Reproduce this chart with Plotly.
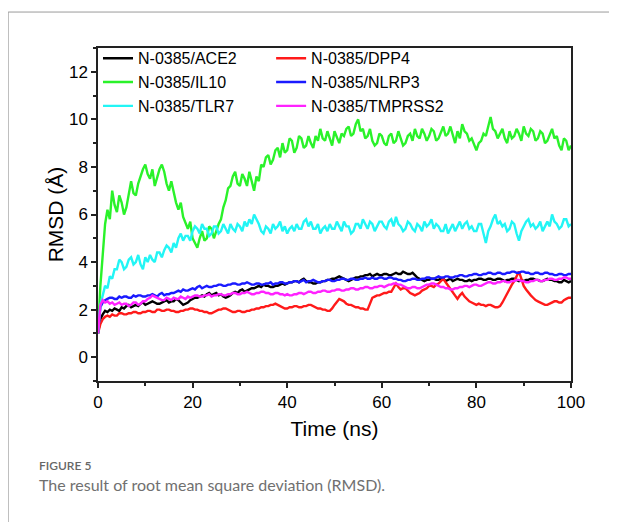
import plotly.graph_objects as go

# time axis: 0 to 100 ns, sampled every 0.5 ns
time_ns = [i * 0.5 for i in range(201)]

ace2 = [1.0, 1.6, 1.8, 1.95, 1.9, 2.0, 1.95, 2.05, 2.0, 1.95, 2.1, 2.05, 2.15, 2.2, 2.1, 2.15, 2.2, 2.15, 2.25, 2.3,
        2.2, 2.25, 2.3, 2.35, 2.3, 2.25, 2.25, 2.3, 2.35, 2.4, 2.3, 2.35, 2.35, 2.45, 2.4, 2.3, 2.2, 2.25, 2.3, 2.4,
        2.45, 2.5, 2.5, 2.55, 2.6, 2.55, 2.65, 2.7, 2.6, 2.65, 2.7, 2.6, 2.65, 2.55, 2.5, 2.55, 2.6, 2.7, 2.75, 2.7,
        2.8, 2.85, 2.75, 2.8, 2.85, 2.9, 2.9, 2.95, 3.0, 2.95, 3.05, 3.0, 3.0, 2.95, 2.95, 3.0, 3.0, 3.05, 3.1, 3.05,
        3.1, 3.15, 3.15, 3.2, 3.2, 3.15, 3.25, 3.3, 3.2, 3.15, 3.15, 3.1, 3.1, 3.15, 3.15, 3.2, 3.2, 3.25, 3.25, 3.3,
        3.3, 3.35, 3.4, 3.35, 3.3, 3.25, 3.2, 3.25, 3.3, 3.35, 3.35, 3.4, 3.4, 3.45, 3.45, 3.5, 3.4, 3.45, 3.5, 3.45,
        3.45, 3.5, 3.5, 3.45, 3.45, 3.5, 3.55, 3.5, 3.5, 3.6, 3.55, 3.5, 3.5, 3.55, 3.45, 3.35, 3.3, 3.25, 3.2, 3.25,
        3.25, 3.3, 3.3, 3.25, 3.25, 3.3, 3.3, 3.2, 3.25, 3.3, 3.2, 3.25, 3.3, 3.25, 3.25, 3.2, 3.2, 3.25, 3.2, 3.25,
        3.25, 3.3, 3.3, 3.25, 3.25, 3.3, 3.3, 3.25, 3.25, 3.3, 3.3, 3.25, 3.2, 3.25, 3.25, 3.3, 3.3, 3.25, 3.2, 3.25,
        3.2, 3.25, 3.25, 3.3, 3.3, 3.25, 3.25, 3.2, 3.2, 3.25, 3.3, 3.25, 3.25, 3.2, 3.2, 3.15, 3.15, 3.25, 3.2, 3.15,
        3.2]

dpp4 = [1.0, 1.4, 1.6, 1.7, 1.75, 1.7, 1.8, 1.75, 1.75, 1.85, 1.85, 1.8, 1.8, 1.85, 1.85, 1.9, 1.9, 1.85, 1.85, 1.9,
        1.9, 1.95, 1.95, 1.9, 1.9, 2.0, 2.0, 1.95, 1.95, 2.0, 2.0, 1.95, 1.95, 1.9, 1.9, 1.95, 1.95, 2.0, 2.0, 2.05,
        2.05, 2.0, 2.0, 1.95, 1.95, 1.9, 1.9, 1.85, 1.85, 1.9, 1.95, 2.0, 2.0, 2.05, 2.05, 2.0, 1.95, 1.9, 1.9, 1.95,
        1.95, 1.9, 1.9, 1.95, 1.95, 2.0, 2.0, 2.05, 2.05, 2.1, 2.1, 2.15, 2.15, 2.2, 2.2, 2.25, 2.2, 2.15, 2.1, 2.05,
        2.05, 2.1, 2.1, 2.15, 2.15, 2.1, 2.1, 2.15, 2.15, 2.2, 2.2, 2.15, 2.1, 2.05, 2.05, 2.0, 2.0, 1.95, 1.95, 2.05,
        2.2, 2.35, 2.45, 2.4, 2.35, 2.25, 2.2, 2.2, 2.15, 2.1, 2.1, 2.05, 2.05, 2.0, 2.0, 2.3, 2.5, 2.55, 2.6, 2.6,
        2.65, 2.7, 2.7, 2.75, 2.75, 2.9, 3.1, 2.95, 2.85, 2.9, 2.9, 2.8, 2.7, 2.65, 2.6, 2.65, 2.7, 2.8, 2.85, 2.9,
        3.0, 3.0, 2.95, 3.05, 3.1, 3.2, 3.3, 3.15, 3.0, 2.85, 2.7, 2.55, 2.45, 2.6, 2.7, 2.55, 2.45, 2.35, 2.3, 2.25,
        2.2, 2.25, 2.2, 2.2, 2.15, 2.2, 2.2, 2.15, 2.1, 2.1, 2.15, 2.3, 2.5, 2.7, 2.9, 3.05, 3.2, 3.4, 3.6, 3.3,
        3.0, 2.85, 2.7, 2.6, 2.5, 2.4, 2.35, 2.3, 2.25, 2.2, 2.2, 2.25, 2.3, 2.35, 2.35, 2.3, 2.3, 2.4, 2.45, 2.5,
        2.5]

il10 = [1.0, 3.0, 4.3, 5.6, 6.2, 5.8, 7.0, 6.4, 6.1, 6.8, 6.5, 6.0, 6.3, 6.9, 7.4, 6.9, 6.8, 7.3, 7.6, 7.9,
        8.1, 7.7, 7.5, 7.9, 7.2, 7.6, 7.9, 8.1, 7.8, 7.3, 7.0, 7.4, 6.9, 6.5, 6.2, 6.5, 5.9, 5.6, 5.4, 5.7,
        5.0, 4.8, 4.6, 5.0, 5.3, 4.9, 5.0, 5.5, 5.4, 5.0, 5.3, 5.6, 5.8, 6.3, 6.6, 7.1, 7.2, 7.6, 7.8, 7.3,
        7.2, 7.7, 7.5, 7.2, 7.8, 7.4, 7.0, 7.6, 7.4, 8.1, 8.0, 8.4, 8.5, 8.1, 8.3, 8.7, 8.8, 8.4, 9.0, 8.6,
        8.7, 9.2, 9.1, 8.6, 8.8, 9.3, 9.2, 8.8, 8.9, 9.3, 9.0, 8.8, 9.3, 9.1, 9.6, 9.2, 9.1, 9.5, 9.2, 8.9,
        9.5, 9.2, 9.0, 9.4, 9.3, 9.6, 9.7, 9.3, 9.4, 9.8, 10.0, 9.5, 9.6, 9.2, 9.3, 9.6, 9.1, 8.9, 9.0, 9.4,
        9.3, 9.0, 8.9, 9.3, 9.4, 9.0, 9.1, 9.5, 9.2, 8.9, 9.0, 9.3, 9.4, 9.1, 9.6, 9.3, 9.2, 9.6, 9.4, 9.1,
        9.3, 9.6, 9.5, 9.1, 9.2, 9.5, 9.7, 9.3, 9.4, 9.7, 9.3, 9.0, 9.5, 9.2, 9.8, 9.5, 9.4, 9.1, 9.2, 8.9,
        8.7, 9.0, 9.1, 9.4, 9.3, 9.7, 10.1, 9.6, 9.5, 9.2, 9.4, 9.6, 9.2, 9.0, 9.5, 9.2, 9.3, 9.6, 9.4, 9.1,
        9.7, 9.4, 9.3, 9.6, 9.5, 9.1, 9.2, 9.5, 9.4, 9.0, 9.1, 9.4, 9.6, 9.2, 9.3, 8.9, 8.7, 9.2, 9.1, 8.7,
        8.9]

nlrp3 = [1.0, 2.1, 2.3, 2.4, 2.45, 2.5, 2.5, 2.45, 2.45, 2.55, 2.5, 2.55, 2.55, 2.5, 2.5, 2.6, 2.55, 2.6, 2.6, 2.55,
         2.55, 2.6, 2.6, 2.65, 2.6, 2.55, 2.65, 2.7, 2.6, 2.65, 2.65, 2.7, 2.7, 2.75, 2.8, 2.75, 2.85, 2.8, 2.8, 2.85,
         2.9, 2.85, 2.95, 3.0, 2.9, 2.95, 3.0, 2.95, 2.95, 3.0, 3.0, 3.05, 3.05, 3.0, 3.0, 3.05, 3.05, 3.1, 3.1, 3.05,
         3.05, 3.1, 3.1, 3.15, 3.1, 3.05, 3.05, 3.1, 3.1, 3.05, 3.05, 3.1, 3.1, 3.15, 3.05, 3.1, 3.1, 3.15, 3.15, 3.1,
         3.1, 3.15, 3.15, 3.2, 3.2, 3.15, 3.2, 3.25, 3.15, 3.2, 3.2, 3.25, 3.2, 3.15, 3.15, 3.2, 3.2, 3.25, 3.25, 3.2,
         3.2, 3.25, 3.25, 3.3, 3.3, 3.25, 3.25, 3.3, 3.3, 3.25, 3.25, 3.3, 3.3, 3.35, 3.3, 3.3, 3.35, 3.3, 3.3, 3.35,
         3.35, 3.3, 3.3, 3.35, 3.35, 3.3, 3.3, 3.25, 3.25, 3.2, 3.2, 3.25, 3.25, 3.3, 3.3, 3.25, 3.25, 3.3, 3.3, 3.35,
         3.35, 3.3, 3.3, 3.35, 3.4, 3.35, 3.35, 3.4, 3.4, 3.35, 3.35, 3.4, 3.4, 3.45, 3.45, 3.4, 3.4, 3.45, 3.45, 3.5,
         3.5, 3.45, 3.45, 3.5, 3.5, 3.55, 3.55, 3.5, 3.5, 3.55, 3.55, 3.5, 3.5, 3.55, 3.55, 3.6, 3.6, 3.55, 3.55, 3.6,
         3.6, 3.55, 3.55, 3.5, 3.5, 3.55, 3.55, 3.5, 3.5, 3.55, 3.55, 3.5, 3.5, 3.45, 3.45, 3.5, 3.5, 3.45, 3.45, 3.5,
         3.5]

tlr7 = [1.0, 2.2, 2.6, 3.0, 2.9, 3.4, 3.3, 3.7, 3.7, 4.1, 4.0, 3.7, 3.8, 4.1, 4.2, 3.9, 4.0, 4.3, 3.9, 3.7,
        4.2, 4.0, 4.3, 4.1, 4.0, 4.4, 4.4, 4.2, 4.5, 4.7, 4.6, 4.4, 4.8, 4.6, 5.0, 5.2, 4.9, 5.1, 5.1, 4.9,
        5.3, 5.5, 5.4, 5.2, 5.6, 5.4, 5.4, 5.1, 5.2, 5.5, 5.5, 5.2, 5.3, 5.6, 5.4, 5.2, 5.6, 5.4, 5.3, 5.6,
        5.5, 5.3, 5.7, 5.5, 5.8, 5.6, 6.0, 5.8, 5.6, 5.3, 5.2, 5.5, 5.4, 5.2, 5.6, 5.4, 5.5, 5.7, 5.3, 5.5,
        5.2, 5.4, 5.5, 5.3, 5.6, 5.4, 5.4, 5.7, 5.8, 5.5, 5.7, 5.4, 5.4, 5.6, 5.2, 5.4, 5.5, 5.3, 5.6, 5.4,
        5.4, 5.7, 5.5, 5.3, 5.7, 5.5, 5.5, 5.2, 5.3, 5.6, 5.6, 5.4, 5.8, 5.6, 5.4, 5.7, 5.6, 5.3, 5.5, 5.7,
        5.7, 5.5, 5.4, 5.7, 5.8, 5.5, 5.9, 5.6, 5.5, 5.3, 5.4, 5.7, 5.6, 5.4, 5.3, 5.6, 5.5, 5.3, 5.7, 5.5,
        5.6, 5.8, 5.4, 5.6, 5.5, 5.3, 5.3, 5.6, 5.2, 5.4, 5.6, 5.3, 5.5, 5.7, 5.4, 5.6, 5.7, 5.4, 5.5, 5.3,
        5.3, 5.6, 5.6, 5.2, 4.8, 5.3, 5.5, 5.8, 6.0, 5.6, 5.7, 5.5, 5.6, 5.3, 5.4, 5.7, 5.6, 5.2, 4.9, 5.3,
        5.5, 5.7, 5.8, 5.5, 5.6, 5.4, 5.5, 5.7, 5.3, 5.5, 5.7, 5.5, 6.0, 5.7, 5.6, 5.4, 5.5, 5.8, 5.8, 5.5,
        5.6]

tmprss2 = [1.0, 2.2, 2.4, 2.3, 2.35, 2.25, 2.3, 2.2, 2.25, 2.3, 2.2, 2.25, 2.25, 2.15, 2.2, 2.3, 2.3, 2.2, 2.25, 2.35,
           2.35, 2.45, 2.5, 2.6, 2.55, 2.5, 2.45, 2.4, 2.4, 2.5, 2.45, 2.4, 2.5, 2.45, 2.45, 2.55, 2.5, 2.45, 2.55, 2.5,
           2.55, 2.6, 2.6, 2.55, 2.55, 2.6, 2.6, 2.65, 2.55, 2.6, 2.6, 2.65, 2.65, 2.6, 2.6, 2.65, 2.65, 2.7, 2.7, 2.65,
           2.65, 2.7, 2.7, 2.75, 2.7, 2.65, 2.65, 2.7, 2.7, 2.75, 2.75, 2.7, 2.7, 2.65, 2.65, 2.7, 2.7, 2.65, 2.65, 2.6,
           2.65, 2.6, 2.6, 2.65, 2.65, 2.7, 2.7, 2.65, 2.7, 2.75, 2.75, 2.7, 2.7, 2.75, 2.75, 2.8, 2.8, 2.75, 2.75, 2.8,
           2.8, 2.85, 2.85, 2.8, 2.8, 2.85, 2.85, 2.9, 2.9, 2.85, 2.85, 2.9, 2.9, 2.95, 2.95, 2.9, 2.9, 2.95, 2.95, 3.0,
           3.0, 2.95, 3.0, 3.05, 3.05, 3.1, 3.1, 3.05, 3.05, 3.0, 2.95, 2.9, 2.9, 2.95, 2.95, 2.9, 2.9, 2.95, 3.0, 3.05,
           3.05, 3.1, 3.1, 3.05, 3.0, 2.95, 2.95, 2.9, 2.9, 2.85, 2.85, 2.9, 2.9, 2.95, 2.95, 3.0, 3.0, 2.95, 3.0, 3.05,
           3.05, 3.0, 3.0, 3.05, 3.1, 3.15, 3.15, 3.1, 3.1, 3.15, 3.15, 3.2, 3.2, 3.15, 3.15, 3.2, 3.2, 3.25, 3.25, 3.2,
           3.2, 3.15, 3.15, 3.2, 3.2, 3.25, 3.25, 3.2, 3.2, 3.25, 3.25, 3.3, 3.3, 3.25, 3.25, 3.3, 3.3, 3.35, 3.35, 3.3,
           3.3]

series_names = ["N-0385/ACE2", "N-0385/DPP4", "N-0385/IL10", "N-0385/NLRP3", "N-0385/TLR7", "N-0385/TMPRSS2"]
series_values = [ace2, dpp4, il10, nlrp3, tlr7, tmprss2]
series_colors = ["#000000", "#FF1A1A", "#2AF22A", "#1A1AFF", "#22F5F5", "#FF22FF"]
series_legend = ["legend", "legend2", "legend", "legend2", "legend", "legend2"]

x_ticks = [0, 20, 40, 60, 80, 100]
y_ticks = [0, 2, 4, 6, 8, 10, 12]

fig = go.Figure()
for name, vals, col, lg in zip(series_names, series_values, series_colors, series_legend):
    fig.add_trace(go.Scatter(x=time_ns, y=vals, mode="lines", name=name, legend=lg,
                             line=dict(color=col, width=2.4)))

axis_common = dict(showgrid=False, zeroline=False, showline=True, linecolor="#222222", linewidth=1.5,
                   mirror=True, ticks="outside", ticklen=5, tickwidth=1.5, tickcolor="#222222",
                   tickfont=dict(family="Liberation Sans, Arial", size=17, color="#000000"))

legend_common = dict(orientation="v", yanchor="top", xanchor="left", bgcolor="rgba(0,0,0,0)",
                     font=dict(family="Liberation Sans, Arial", size=16, color="#000000"),
                     itemwidth=30, tracegroupgap=0)

fig.update_layout(
    width=609, height=514,
    margin=dict(l=90, r=46, t=40, b=141),
    paper_bgcolor="white", plot_bgcolor="white",
    xaxis=dict(range=[0, 100], tickvals=x_ticks,
               minor=dict(ticks="outside", ticklen=3, tickwidth=1.5, tickcolor="#222222", dtick=10),
               title=dict(text="Time (ns)", font=dict(family="Liberation Sans, Arial", size=21, color="#000000"),
                          standoff=10),
               **axis_common),
    yaxis=dict(range=[-1, 13], tickvals=y_ticks,
               minor=dict(ticks="outside", ticklen=3, tickwidth=1.5, tickcolor="#222222", dtick=1),
               title=dict(text="RMSD (Å)", font=dict(family="Liberation Sans, Arial", size=21, color="#000000"),
                          standoff=0),
               **axis_common),
    legend=dict(x=0.0, y=1.02, **legend_common),
    legend2=dict(x=0.366, y=1.02, **legend_common),
    showlegend=True,
)

# outer figure frame (left and top edges)
fig.add_shape(type="line", xref="paper", yref="paper", x0=-0.19, x1=-0.19, y0=1.108, y1=-0.5,
              line=dict(color="#9A9A9A", width=1))
fig.add_shape(type="line", xref="paper", yref="paper", x0=-0.19, x1=1.2, y0=1.108, y1=1.108,
              line=dict(color="#9A9A9A", width=1))

fig.add_annotation(text="FIGURE 5", xref="paper", yref="paper", x=-0.130, y=-0.255,
                   xanchor="left", yanchor="middle", showarrow=False,
                   font=dict(family="Lato", size=12, color="#666666", weight=600))
fig.add_annotation(text="The result of root mean square deviation (RMSD).", xref="paper", yref="paper",
                   x=-0.130, y=-0.312, xanchor="left", yanchor="middle", showarrow=False,
                   font=dict(family="Lato", size=16, color="#707070"))

fig.write_html("out.html")
